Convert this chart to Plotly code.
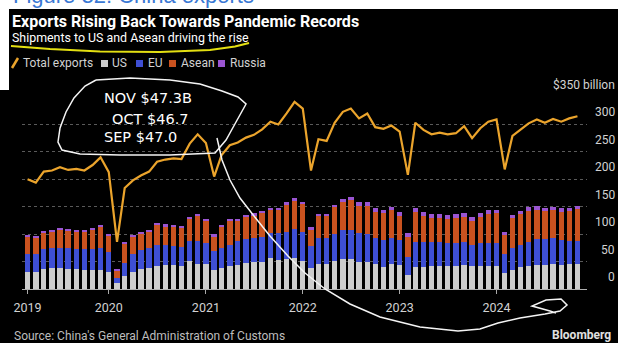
import pandas as pd
import plotly.graph_objects as go

# ---------------- data (USD billions, monthly, Mar 2019 - Nov 2024) ----------------
start_month = "2019-03-01"
end_month = "2024-11-01"
months = pd.date_range(start_month, end_month, freq="MS")

total_exports = [200, 194, 214, 216, 222, 217, 219, 216, 226, 240,
                 213, 86, 184, 198, 207, 214, 232, 236, 238, 237, 265, 282,
                 266, 205, 244, 262, 267, 276, 281, 291, 305, 300, 320, 341,
                 329, 216, 273, 270, 303, 323, 329, 311, 320, 295, 292, 298,
                 287, 208, 303, 290, 282, 285, 282, 284, 297, 275, 293, 305,
                 309, 218, 279, 291, 302, 309, 303, 310, 305, 311, 315]

us = [30.4, 30.4, 36.5, 37.7, 37.7, 36.5, 36.5, 34.6, 34.0, 34.0,
      31.6, 10.3, 24.3, 30.4, 36.5, 38.9, 42.5, 43.7, 43.7, 42.5, 51.0, 45.6,
      45.0, 34.6, 37.7, 42.5, 43.7, 46.8, 48.6, 49.8, 55.9, 52.9, 54.0, 57.1,
      51.0, 38.9, 46.2, 45.0, 51.0, 54.7, 54.0, 49.2, 49.8, 46.2, 40.7, 45.0,
      43.7, 25.5, 40.7, 40.7, 41.3, 41.9, 41.9, 41.9, 43.7, 41.9, 41.9, 41.9,
      41.9, 28.6, 34.6, 40.7, 42.5, 43.7, 43.7, 45.0, 43.7, 45.0, 45.6]

eu = [32.8, 32.8, 36.4, 36.4, 37.6, 37.6, 36.4, 38.3, 38.9, 41.3,
      35.2, 10.4, 23.7, 32.8, 34.5, 35.2, 37.7, 36.5, 35.3, 34.7, 37.1, 42.5,
      38.2, 34.7, 37.6, 37.7, 44.4, 44.3, 45.0, 44.4, 45.6, 48.6, 49.3, 52.3,
      52.3, 39.5, 46.1, 47.3, 49.2, 52.8, 53.5, 53.5, 50.4, 46.1, 48.6, 47.3,
      45.6, 33.4, 45.6, 45.6, 45.0, 44.4, 42.5, 42.5, 42.6, 38.3, 42.5, 42.5,
      42.5, 34.6, 39.5, 39.5, 43.8, 46.8, 46.8, 47.3, 45.6, 43.1, 42.5]

asean = [32.7, 30.3, 29.8, 31.0, 33.5, 32.9, 32.2, 32.1, 34.7, 38.3,
         30.4, 13.8, 34.5, 32.7, 30.5, 30.9, 36.5, 34.2, 34.1, 34.7, 40.2, 44.6,
         40.9, 27.3, 37.8, 43.4, 35.5, 39.8, 39.8, 44.1, 42.2, 41.7, 49.7, 51.6,
         50.9, 30.0, 39.9, 40.9, 48.4, 51.5, 55.3, 49.3, 51.8, 48.7, 48.7, 51.2,
         43.9, 36.6, 53.7, 46.4, 42.7, 43.9, 44.0, 45.3, 45.8, 43.9, 47.1, 53.2,
         53.6, 35.8, 54.8, 56.6, 56.0, 54.3, 51.2, 51.2, 51.7, 53.6, 57.3]

russia = [2.5, 2.5, 3, 3, 3, 3, 3, 3, 3, 3,
          3, 2, 2.5, 2.5, 3, 3, 3, 3.5, 3.5, 3.5, 3.5, 4,
          3.5, 3, 3.5, 4, 4, 4, 4.5, 4.5, 4.5, 5, 5, 5.5,
          5, 4, 4.5, 3.5, 4.5, 5, 5.5, 6, 6, 6, 6, 6.5,
          6.5, 6, 7, 7, 7, 6.5, 6.5, 7, 7, 6.5, 7, 7,
          6, 5.5, 6, 6, 6.5, 6.5, 6.5, 6.5, 6, 6.5, 6.5]

year_tick_dates = ["2019-03-01", "2020-01-01", "2021-01-01", "2022-01-01", "2023-01-01", "2024-01-01"]
year_tick_labels = ["2019", "2020", "2021", "2022", "2023", "2024"]
y_tick_values = [0, 50, 100, 150, 200, 250, 300, 350]
y_tick_labels = ["0", "50", "100", "150", "200", "250", "300", "$350 billion"]

title = "Exports Rising Back Towards Pandemic Records"
subtitle = "Shipments to US and Asean driving the rise"
source = "Source: China's General Administration of Customs"
figure_caption = "Figure 32: China exports"
notes = ["NOV $47.3B", "OCT $46.7", "SEP $47.0"]

# ---------------- styling ----------------
W, H = 618, 343
L, R, T, B = 22, 31, 97, 54
PW, PH = W - L - R, H - T - B
FONT = "Roboto"
C_US, C_EU, C_AS, C_RU = "#cdcdcd", "#3e4fd4", "#c9521f", "#9b55d2"
C_LINE = "#eba42c"
C_TXT = "#d2d2d2"


def fx(x):
    return (x - L) / PW


def fy(y):
    return (H - B - y) / PH


def path(points):
    return "M " + " L ".join(f"{fx(x):.4f},{fy(y):.4f}" for x, y in points)


fig = go.Figure()
for name, vals, col in [("US", us, C_US), ("EU", eu, C_EU), ("Asean", asean, C_AS), ("Russia", russia, C_RU)]:
    fig.add_trace(go.Bar(x=months, y=vals, name=name, marker=dict(color=col, line=dict(width=0)),
                         showlegend=False))
fig.add_trace(go.Scatter(x=months, y=total_exports, name="Total exports", mode="lines",
                         line=dict(color=C_LINE, width=2.2), showlegend=False))

annotations = []
# caption above the black panel (cut off at top, as in the source screenshot)
annotations.append(dict(text=figure_caption, xref="paper", yref="paper", x=fx(11), y=fy(-4),
                        xanchor="left", yanchor="middle", showarrow=False,
                        font=dict(family="Liberation Sans", size=22, color="#3a78d4")))
annotations.append(dict(text=f"<b>{title}</b>", xref="paper", yref="paper", x=fx(10), y=fy(21),
                        xanchor="left", yanchor="middle", showarrow=False,
                        font=dict(family=FONT, size=16, color="#ffffff")))
annotations.append(dict(text=subtitle, xref="paper", yref="paper", x=fx(10), y=fy(38),
                        xanchor="left", yanchor="middle", showarrow=False,
                        font=dict(family=FONT, size=12.4, color="#ffffff")))
# legend
for label, xpos in [("Total exports", 21), ("US", 110), ("EU", 146), ("Asean", 179), ("Russia", 228)]:
    annotations.append(dict(text=label, xref="paper", yref="paper", x=fx(xpos), y=fy(63),
                            xanchor="left", yanchor="middle", showarrow=False,
                            font=dict(family=FONT, size=12, color=C_TXT)))
# y tick labels (right aligned above gridlines)
for v, lab in zip(y_tick_values, y_tick_labels):
    annotations.append(dict(text=lab, xref="paper", yref="y", x=fx(617), y=v, yshift=12,
                            xanchor="right", yanchor="middle", showarrow=False,
                            font=dict(family=FONT, size=12, color=C_TXT)))
# footer
annotations.append(dict(text=source, xref="paper", yref="paper", x=fx(12), y=fy(336),
                        xanchor="left", yanchor="middle", showarrow=False,
                        font=dict(family=FONT, size=12, color="#bdbdbd")))
annotations.append(dict(text="<b>Bloomberg</b>", xref="paper", yref="paper", x=fx(613), y=fy(335),
                        xanchor="right", yanchor="middle", showarrow=False,
                        font=dict(family=FONT, size=12, color="#e0e0e0")))
# handwritten notes
for txt, cx, cy in zip(notes, [148, 150, 140], [98, 119, 137]):
    annotations.append(dict(text=txt, xref="paper", yref="paper", x=fx(cx), y=fy(cy),
                            xanchor="center", yanchor="middle", showarrow=False,
                            font=dict(family="DejaVu Sans", size=14.5, color="#ffffff")))

shapes = []
# white page margin around the dark panel
shapes.append(dict(type="rect", xref="paper", yref="paper", x0=fx(-5), x1=fx(W + 5), y0=fy(-5), y1=fy(9),
                   fillcolor="#ffffff", line=dict(width=0), layer="above"))
shapes.append(dict(type="rect", xref="paper", yref="paper", x0=fx(-5), x1=fx(9), y0=fy(-5), y1=fy(90),
                   fillcolor="#ffffff", line=dict(width=0), layer="above"))
# legend icons
shapes.append(dict(type="line", xref="paper", yref="paper", x0=fx(12), y0=fy(68), x1=fx(18), y1=fy(58),
                   line=dict(color=C_LINE, width=2.5)))
for col, x0 in [(C_US, 101), (C_EU, 136), (C_AS, 169), (C_RU, 218)]:
    shapes.append(dict(type="rect", xref="paper", yref="paper", x0=fx(x0), x1=fx(x0 + 7),
                       y0=fy(67), y1=fy(60), fillcolor=col, line=dict(width=0)))
# handwriting: yellow underline
shapes.append(dict(type="path", xref="paper", yref="paper", layer="above",
                   path=path([(11, 46), (50, 49), (100, 51.5), (160, 52), (210, 50), (235, 46.5), (249, 43)]),
                   line=dict(color="#e3df12", width=2)))
# handwriting: bubble around notes
shapes.append(dict(type="path", xref="paper", yref="paper", layer="above",
                   path=path([(96, 80), (85, 86), (74, 98), (66, 112), (60, 128), (58, 142), (62, 150),
                              (80, 154), (120, 155), (170, 155), (215, 153), (226, 140), (236, 122),
                              (246, 104), (238, 97), (222, 91), (200, 84), (170, 80), (130, 78), (96, 80)]),
                   line=dict(color="#f4f4f4", width=1.5)))
# handwriting: long arrow curve
shapes.append(dict(type="path", xref="paper", yref="paper", layer="above",
                   path=path([(217, 138), (222, 160), (230, 180), (240, 198), (254, 216), (270, 236),
                              (288, 256), (305, 273), (325, 289), (350, 304), (380, 317), (420, 327),
                              (458, 331), (480, 329), (498, 323), (520, 318), (545, 314), (560, 311),
                              (567, 305), (561, 299), (546, 300), (532, 306), (550, 311), (556, 313)]),
                   line=dict(color="#f4f4f4", width=1.5)))

fig.update_layout(
    width=W, height=H,
    margin=dict(l=L, r=R, t=T, b=B, pad=0),
    paper_bgcolor="#000000", plot_bgcolor="#000000",
    barmode="stack", bargap=0.27,
    showlegend=False,
    annotations=annotations,
    shapes=shapes,
    xaxis=dict(type="date", range=["2019-02-08", "2024-12-07"],
               tickvals=year_tick_dates, ticktext=year_tick_labels,
               ticks="outside", ticklen=4, tickcolor="#aaaaaa", tickwidth=1,
               showgrid=False, showline=False, zeroline=False,
               tickfont=dict(family=FONT, size=12.5, color=C_TXT), ticklabelstandoff=3),
    yaxis=dict(range=[0, 350], tickvals=y_tick_values, showticklabels=False,
               showgrid=True, gridcolor="#5a5a5a", griddash="dot", gridwidth=1,
               zeroline=True, zerolinecolor="#b0b0b0", zerolinewidth=1, side="right"),
)

fig.write_html("out.html", config={"displayModeBar": False},
               post_script="document.body.style.margin='0px';document.body.style.overflow='hidden';")
